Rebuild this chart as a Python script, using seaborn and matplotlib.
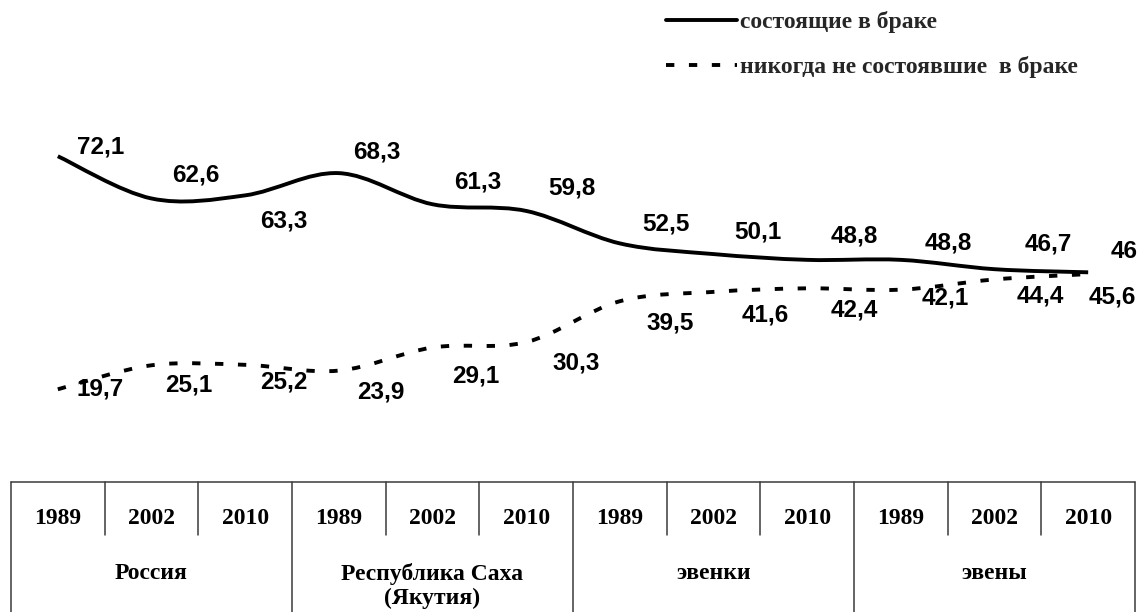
import numpy as np
import pandas as pd
import matplotlib
matplotlib.use("Agg")
import matplotlib.pyplot as plt
from matplotlib.path import Path
from matplotlib.patches import PathPatch
from matplotlib.lines import Line2D
import seaborn as sns

# data
years = ["1989", "2002", "2010"]
groups = ["Россия", "Республика Саха\n(Якутия)", "эвенки", "эвены"]
married = [72.1, 62.6, 63.3, 68.3, 61.3, 59.8, 52.5, 50.1, 48.8, 48.8, 46.7, 46]
never_married = [19.7, 25.1, 25.2, 23.9, 29.1, 30.3, 39.5, 41.6, 42.4, 42.1, 44.4, 45.6]
series_names = ["состоящие в браке", "никогда не состоявшие  в браке"]

# label offsets (pixels, right / down) as in the reference
married_dx = [43, 44, 39, 38, 45, 46, 46, 44, 47, 47, 54, 36]
married_dy = [-12, -26, 23, -24, -25, -25, -22, -25, -26, -19, -28, -23]
never_dx = [42, 37, 39, 42, 43, 50, 50, 52, 47, 44, 46, 24]
never_dy = [-3, 17, 15, 19, 26, 18, 19, 21, 19, 6, 14, 20]

df = pd.DataFrame({
    "pos": np.arange(len(married)),
    "married": married,
    "never": never_married,
})

sns.set_theme(style="white")
plt.rcParams["lines.scale_dashes"] = False

W, H = 1142, 612
fig = plt.figure(figsize=(W / 100, H / 100), dpi=100)

# table + layout axes in pixel coords
ax_t = fig.add_axes([0, 0, 1, 1])
ax_t.set_xlim(0, W)
ax_t.set_ylim(H, 0)
ax_t.axis("off")

# chart axes
left, right, top, bottom = 11, 1135, 100, 440
ax = fig.add_axes([left / W, (H - bottom) / H, (right - left) / W, (bottom - top) / H])
ax.set_xlim(-0.5, len(married) - 0.5)
ax.set_ylim(8.3, 84.74)
ax.axis("off")


def smooth_path(xs, ys):
    # Catmull-Rom style smoothing as in Excel "smoothed line"
    pts = np.column_stack([xs, ys]).astype(float)
    n = len(pts)
    verts = [pts[0]]
    codes = [Path.MOVETO]
    for i in range(n - 1):
        p0 = pts[max(i - 1, 0)]
        p1 = pts[i]
        p2 = pts[i + 1]
        p3 = pts[min(i + 2, n - 1)]
        c1 = p1 + (p2 - p0) / 6
        c2 = p2 - (p3 - p1) / 6
        verts += [c1, c2, p2]
        codes += [Path.CURVE4] * 3
    return Path(verts, codes)


dash = (0, (6, 10.5))
lw = 2.8
ax.add_patch(PathPatch(smooth_path(df["pos"], df["married"]), fill=False,
                       lw=lw, color="black", capstyle="butt"))
ax.add_patch(PathPatch(smooth_path(df["pos"], df["never"]), fill=False,
                       lw=lw, color="black", linestyle=dash, capstyle="butt"))

num_font = dict(family="Liberation Sans", fontsize=17.5, fontweight="bold", color="black")
for i, v in enumerate(married):
    ax.annotate(f"{v:g}".replace(".", ","), (i, v),
                xytext=(married_dx[i], -(married_dy[i] + 9)), textcoords="offset pixels",
                ha="center", va="baseline", **num_font)
for i, v in enumerate(never_married):
    ax.annotate(f"{v:g}".replace(".", ","), (i, v),
                xytext=(never_dx[i], -(never_dy[i] + 9)), textcoords="offset pixels",
                ha="center", va="baseline", **num_font)

# legend
handles = [Line2D([], [], color="black", lw=lw),
           Line2D([], [], color="black", lw=lw, linestyle=dash)]
fig.legend(handles, series_names, loc="upper left", bbox_to_anchor=(666 / W, 1 - 11 / H),
           frameon=False, handlelength=3.0, handletextpad=0.12, labelspacing=0.99,
           borderpad=0, borderaxespad=0,
           prop=dict(family="Liberation Serif", weight="bold", size=17))

# table under the chart
tab_top = 482
ncol = len(groups) * len(years)
colw = (right - left) / ncol
tab_font = dict(family="Liberation Serif", fontsize=17, fontweight="bold", color="black")
line_kw = dict(color="#3a3a3a", lw=1.1)
ax_t.plot([left, right], [tab_top, tab_top], **line_kw)
for k in range(ncol + 1):
    x = left + k * colw
    y_end = H if k % len(years) == 0 else 535
    ax_t.plot([x, x], [tab_top, y_end], **line_kw)
for k in range(ncol):
    ax_t.text(left + (k + 0.5) * colw, 518, years[k % len(years)],
              ha="center", va="center", **tab_font)
for g, name in enumerate(groups):
    ax_t.text(left + (g + 0.5) * len(years) * colw, 563, name,
              ha="center", va="top", linespacing=1.2, **tab_font)

fig.savefig("out.png", dpi=100)
